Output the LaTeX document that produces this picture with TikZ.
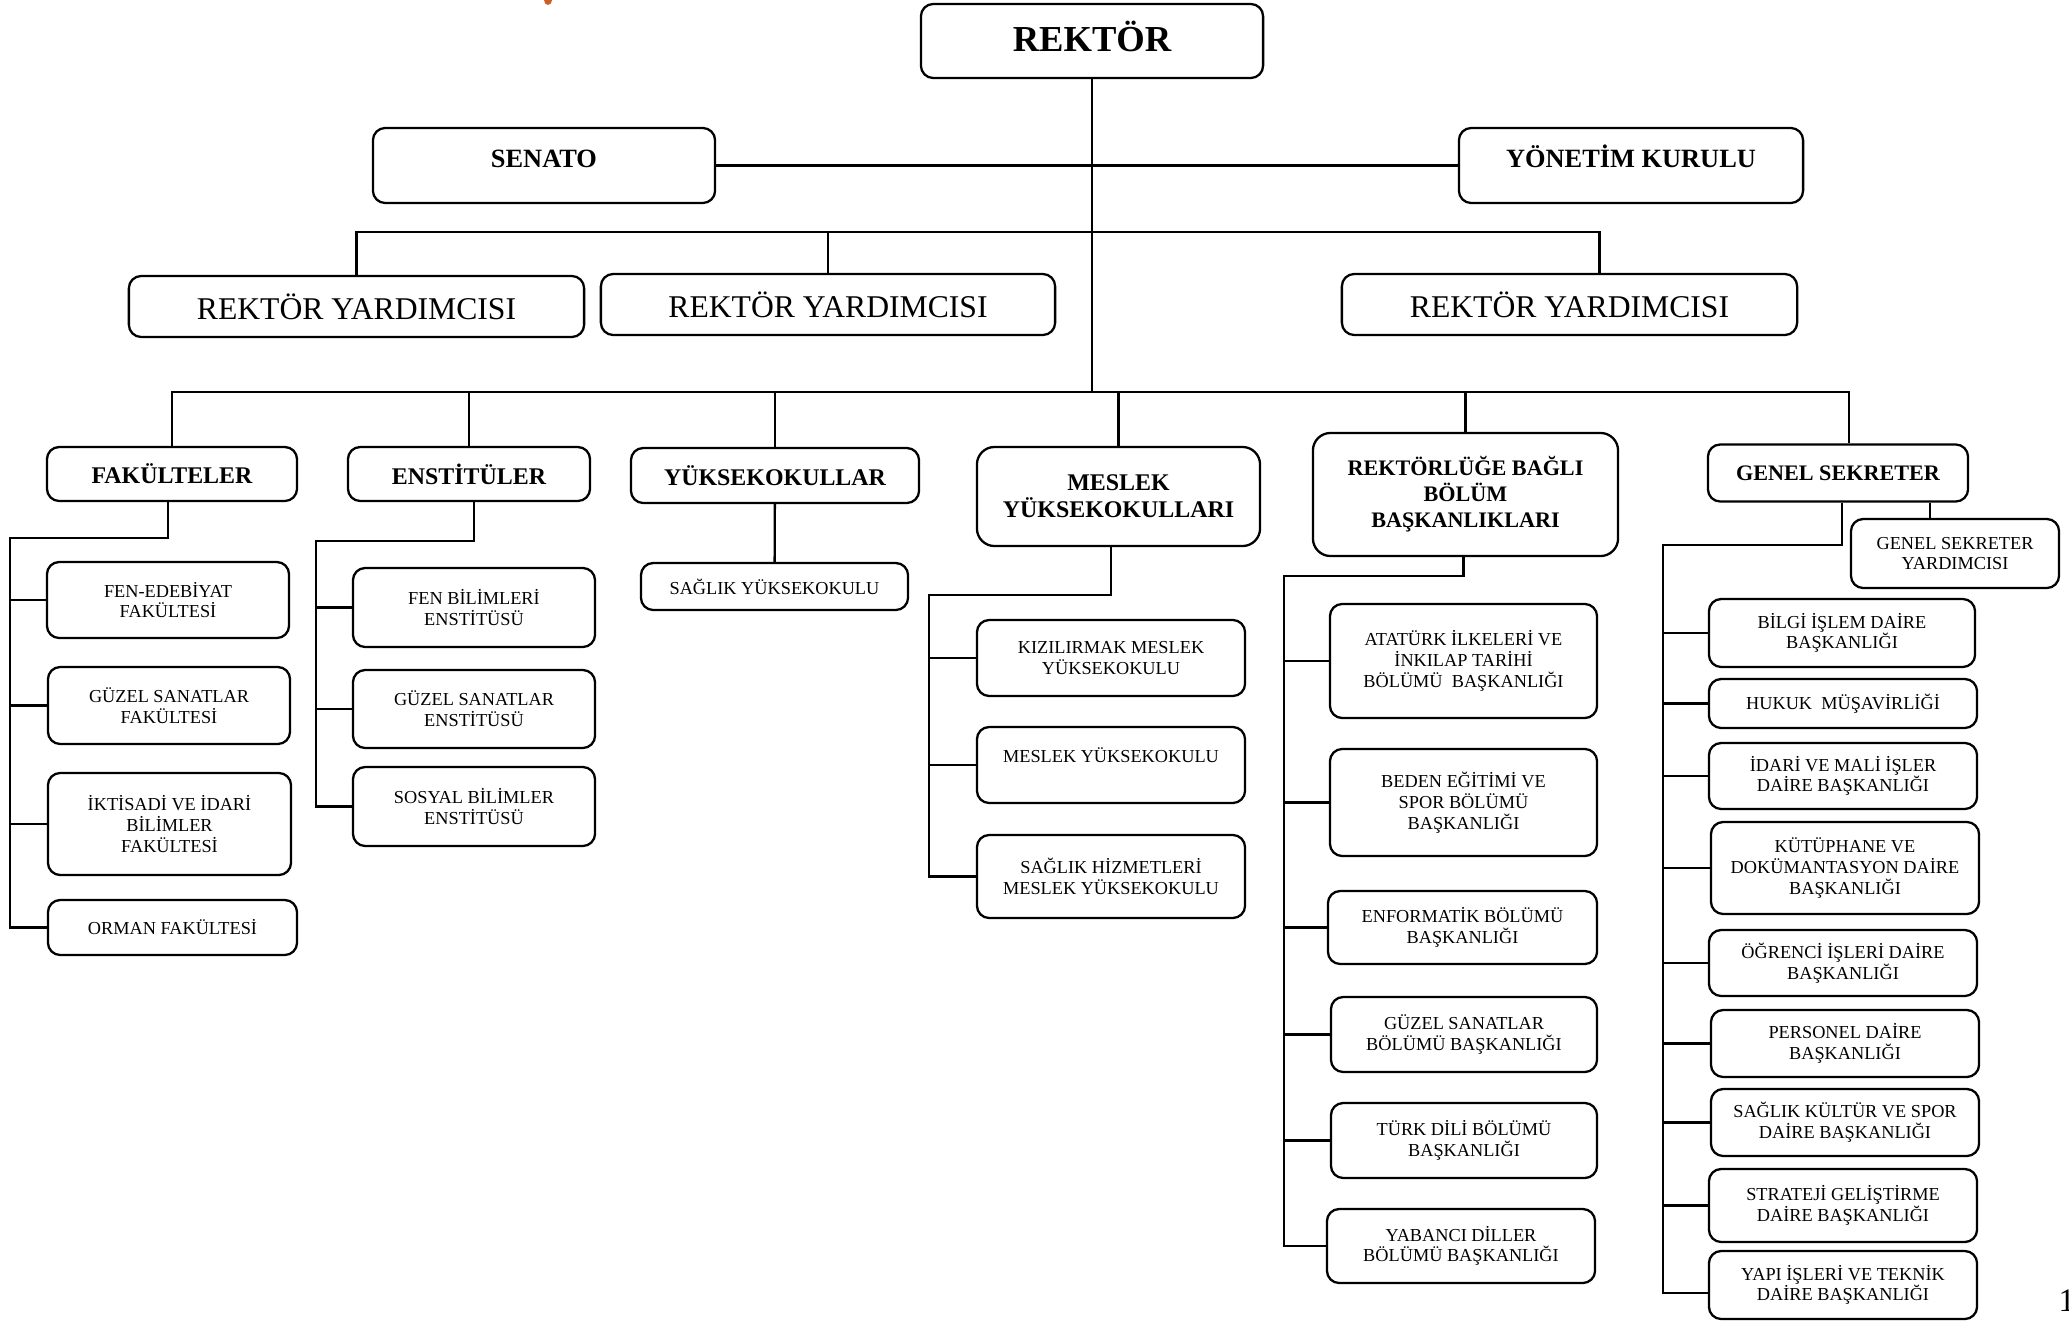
\documentclass[tikz,border=0pt]{standalone}
\usepackage{fontspec}
\setmainfont{Liberation Serif}
\usetikzlibrary{calc}
\definecolor{rust}{RGB}{205,95,35}
\tikzset{box/.style={rectangle,rounded corners=3.5pt,draw=black,line width=0.65pt,
fill=white,inner sep=1pt,align=center},
chief/.style={box,font=\bfseries\fontsize{10.4}{12}\selectfont,text height=7pt,text depth=1.2pt},
board/.style={box,font=\bfseries\fontsize{7.5}{9}\selectfont,text height=5pt,text depth=3.7pt},
deputy/.style={box,font=\fontsize{9}{11}\selectfont},
head/.style={box,font=\bfseries\fontsize{6.8}{7.6}\selectfont},
narrowhead/.style={box,font=\bfseries\fontsize{6.3}{7.4}\selectfont},
unit/.style={box,font=\fontsize{5.2}{5.9}\selectfont},
link/.style={color=black,line width=0.65pt}}
\begin{document}
\begin{tikzpicture}[x=0.01cm,y=-0.01cm]
  \useasboundingbox (0,0) rectangle (2069,1321);
  \fill [white] (0,0) rectangle (2069,1321);
  \fill [rust] (548,0) ellipse (4 and 5);

  % top level
  \node (rektor) [chief,minimum width=3.42cm,minimum height=0.74cm] at (1092,41) {REKTÖR};
  \node (senato) [board,minimum width=3.42cm,minimum height=0.75cm] at (544,165.5) {SENATO};
  \node (yk) [board,minimum width=3.44cm,minimum height=0.75cm] at (1631,165.5) {YÖNETİM KURULU};
  \node (ry1) [deputy,minimum width=4.55cm,minimum height=0.61cm] at (356.5,306.5) {REKTÖR YARDIMCISI};
  \node (ry2) [deputy,minimum width=4.54cm,minimum height=0.61cm] at (828,304.5) {REKTÖR YARDIMCISI};
  \node (ry3) [deputy,minimum width=4.55cm,minimum height=0.61cm] at (1569.5,304.5) {REKTÖR YARDIMCISI};

  % units
  \node (fak) [head,minimum width=2.5cm,minimum height=0.54cm] at (172,474) {FAKÜLTELER};
  \node (enst) [head,minimum width=2.42cm,minimum height=0.54cm] at (469,474) {ENSTİTÜLER};
  \node (yo) [head,minimum width=2.88cm,minimum height=0.55cm] at (775,475.5) {YÜKSEKOKULLAR};
  \node (myo) [head,rounded corners=5pt,minimum width=2.83cm,minimum height=0.99cm] at (1118.5,496.5) {MESLEK\\YÜKSEKOKULLARI};
  \node (rbb) [narrowhead,rounded corners=5pt,minimum width=3.05cm,minimum height=1.23cm] at (1465.5,494.5) {REKTÖRLÜĞE BAĞLI\\BÖLÜM\\BAŞKANLIKLARI};
  \node (gs) [narrowhead,minimum width=2.6cm,minimum height=0.57cm] at (1838,473) {GENEL SEKRETER};

  \node (fen) [unit,minimum width=2.42cm,minimum height=0.76cm] at (168,600) {FEN-EDEBİYAT\\FAKÜLTESİ};
  \node (gsf) [unit,minimum width=2.42cm,minimum height=0.77cm] at (169,705.5) {GÜZEL SANATLAR\\FAKÜLTESİ};
  \node (iib) [unit,minimum width=2.43cm,minimum height=1.02cm] at (169.5,824) {İKTİSADİ VE İDARİ\\BİLİMLER\\FAKÜLTESİ};
  \node (orm) [unit,minimum width=2.49cm,minimum height=0.55cm] at (172.5,927.5) {ORMAN FAKÜLTESİ};

  \node (fbe) [unit,minimum width=2.42cm,minimum height=0.79cm] at (474,607.5) {FEN BİLİMLERİ\\ENSTİTÜSÜ};
  \node (gse) [unit,minimum width=2.42cm,minimum height=0.78cm] at (474,709) {GÜZEL SANATLAR\\ENSTİTÜSÜ};
  \node (sbe) [unit,minimum width=2.42cm,minimum height=0.79cm] at (474,806.5) {SOSYAL BİLİMLER\\ENSTİTÜSÜ};

  \node (syo) [unit,minimum width=2.67cm,minimum height=0.47cm] at (774.5,586.5) {SAĞLIK YÜKSEKOKULU};

  \node (kmyo) [unit,minimum width=2.68cm,minimum height=0.76cm] at (1111,658) {KIZILIRMAK MESLEK\\YÜKSEKOKULU};
  \node (msyo) [unit,minimum width=2.68cm,minimum height=0.76cm] at (1111,765) {MESLEK YÜKSEKOKULU\\\mbox{}};
  \node (shmyo) [unit,minimum width=2.68cm,minimum height=0.83cm] at (1111,876.5) {SAĞLIK HİZMETLERİ\\MESLEK YÜKSEKOKULU};

  \node (ata) [unit,minimum width=2.67cm,minimum height=1.14cm] at (1463.5,661) {ATATÜRK İLKELERİ VE\\İNKILAP TARİHİ\\BÖLÜMÜ~ BAŞKANLIĞI};
  \node (beden) [unit,minimum width=2.67cm,minimum height=1.07cm] at (1463.5,802.5) {BEDEN EĞİTİMİ VE\\SPOR BÖLÜMÜ\\BAŞKANLIĞI};
  \node (enf) [unit,minimum width=2.69cm,minimum height=0.73cm] at (1462.5,927.5) {ENFORMATİK BÖLÜMÜ\\BAŞKANLIĞI};
  \node (gsb) [unit,minimum width=2.66cm,minimum height=0.75cm] at (1464,1034.5) {GÜZEL SANATLAR\\BÖLÜMÜ BAŞKANLIĞI};
  \node (tdb) [unit,minimum width=2.66cm,minimum height=0.75cm] at (1464,1140.5) {TÜRK DİLİ BÖLÜMÜ\\BAŞKANLIĞI};
  \node (ydb) [unit,minimum width=2.68cm,minimum height=0.74cm] at (1461,1246) {YABANCI DİLLER\\BÖLÜMÜ BAŞKANLIĞI};

  \node (gsy) [unit,minimum width=2.08cm,minimum height=0.69cm] at (1955,553.5) {GENEL SEKRETER\\YARDIMCISI};
  \node (bim) [unit,minimum width=2.66cm,minimum height=0.68cm] at (1842,633) {BİLGİ İŞLEM DAİRE\\BAŞKANLIĞI};
  \node (hm) [unit,minimum width=2.68cm,minimum height=0.49cm] at (1843,703.5) {HUKUK~ MÜŞAVİRLİĞİ};
  \node (imi) [unit,minimum width=2.68cm,minimum height=0.66cm] at (1843,776) {İDARİ VE MALİ İŞLER\\DAİRE BAŞKANLIĞI};
  \node (kdb) [unit,minimum width=2.68cm,minimum height=0.92cm] at (1845,868) {KÜTÜPHANE VE\\DOKÜMANTASYON DAİRE\\BAŞKANLIĞI};
  \node (oib) [unit,minimum width=2.68cm,minimum height=0.66cm] at (1843,963) {ÖĞRENCİ İŞLERİ DAİRE\\BAŞKANLIĞI};
  \node (pdb) [unit,minimum width=2.68cm,minimum height=0.67cm] at (1845,1043.5) {PERSONEL DAİRE\\BAŞKANLIĞI};
  \node (skd) [unit,minimum width=2.68cm,minimum height=0.67cm] at (1845,1122.5) {SAĞLIK KÜLTÜR VE SPOR\\DAİRE BAŞKANLIĞI};
  \node (sgd) [unit,minimum width=2.68cm,minimum height=0.73cm] at (1843,1205.5) {STRATEJİ GELİŞTİRME\\DAİRE BAŞKANLIĞI};
  \node (yit) [unit,minimum width=2.68cm,minimum height=0.68cm] at (1843,1285) {YAPI İŞLERİ VE TEKNİK\\DAİRE BAŞKANLIĞI};

  \node (page) [anchor=base west,inner sep=0pt,font=\fontsize{9.3}{10}\selectfont] at (2058,1311) {1};

  \coordinate (spine) at (1092,392);
  \coordinate (fakbus) at (10,538);
  \coordinate (enstbus) at (316,541);
  \coordinate (myobus) at (929,595);
  \coordinate (rbbbus) at (1284,576);
  \coordinate (gsbus) at (1663,545);
  \coordinate (gsytop) at ([xshift=-0.25cm]gsy.north);

  \draw [link] (rektor) -- (spine);
  \draw [link] (senato) -- (yk);
  \draw [link] (ry1.north) -- ++(0,-43) -| ([xshift=0.3cm]ry3.north);
  \draw [link] (ry2.north) -- ++(0,-41);
  \draw [link] (fak.north) |- (spine);
  \draw [link] ([xshift=0.11cm]gs.north) |- (spine);
  \draw [link] (enst.north) -- (enst.north |- spine);
  \draw [link] (yo.north) -- (yo.north |- spine);
  \draw [link] (myo.north) -- (myo.north |- spine);
  \draw [link] (rbb.north) -- (rbb.north |- spine);

  \draw [link] (fak.south -| fen) |- (fakbus) |- (orm.west);
  \draw [link] (fakbus |- fen.west) -- (fen.west);
  \draw [link] (fakbus |- gsf.west) -- (gsf.west);
  \draw [link] (fakbus |- iib.west) -- (iib.west);

  \draw [link] (enst.south -| fbe) |- (enstbus) |- (sbe.west);
  \draw [link] (enstbus |- fbe.west) -- (fbe.west);
  \draw [link] (enstbus |- gse.west) -- (gse.west);

  \draw [link] (yo) -- (syo);

  \draw [link] (myo.south -| kmyo) |- (myobus) |- (shmyo.west);
  \draw [link] (myobus |- kmyo.west) -- (kmyo.west);
  \draw [link] (myobus |- msyo.west) -- (msyo.west);

  \draw [link] (rbb.south -| ata) |- (rbbbus) |- (ydb.west);
  \draw [link] (rbbbus |- ata.west) -- (ata.west);
  \draw [link] (rbbbus |- beden.west) -- (beden.west);
  \draw [link] (rbbbus |- enf.west) -- (enf.west);
  \draw [link] (rbbbus |- gsb.west) -- (gsb.west);
  \draw [link] (rbbbus |- tdb.west) -- (tdb.west);

  \draw [link] (gs.south -| bim) |- (gsbus) |- ([yshift=-0.08cm]yit.west);
  \draw [link] (gsytop) -- (gsytop |- gs.south);
  \draw [link] (gsbus |- bim.west) -- (bim.west);
  \draw [link] (gsbus |- hm.west) -- (hm.west);
  \draw [link] (gsbus |- imi.west) -- (imi.west);
  \draw [link] (gsbus |- kdb.west) -- (kdb.west);
  \draw [link] (gsbus |- oib.west) -- (oib.west);
  \draw [link] (gsbus |- pdb.west) -- (pdb.west);
  \draw [link] (gsbus |- skd.west) -- (skd.west);
  \draw [link] (gsbus |- sgd.west) -- (sgd.west);
\end{tikzpicture}
\end{document}
